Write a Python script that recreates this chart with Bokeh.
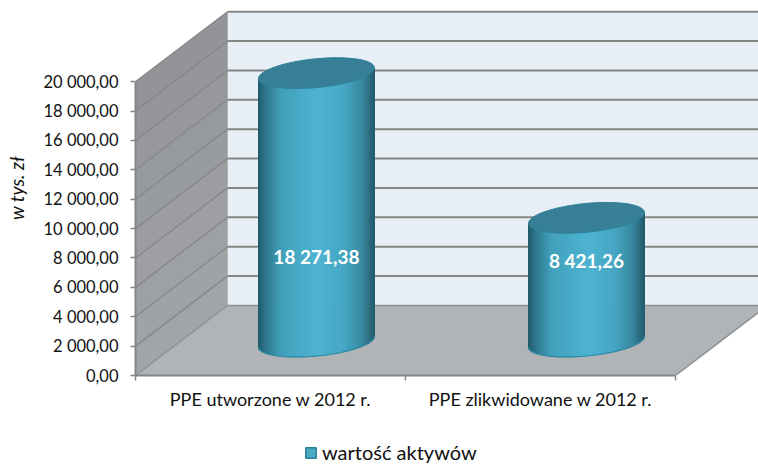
import math
from bokeh.plotting import figure
from bokeh.layouts import column
from bokeh.models import (Range1d, LinearAxis, FixedTicker, Legend, LegendItem)
from bokeh.core.properties import value
from bokeh.embed import file_html
from bokeh.resources import INLINE

# ---- data ----
categories = ["PPE utworzone w 2012 r.", "PPE zlikwidowane w 2012 r."]
series_name = "wartość aktywów"
series_values = [18271.38, 8421.26]
value_labels = ["18 271,38", "8 421,26"]
y_ticks = [0, 2000, 4000, 6000, 8000, 10000, 12000, 14000, 16000, 18000, 20000]
y_tick_labels = ["0,00", "2 000,00", "4 000,00", "6 000,00", "8 000,00", "10 000,00",
                 "12 000,00", "14 000,00", "16 000,00", "18 000,00", "20 000,00"]
y_title = "w tys. zł"

# ---- layout / projection ----
W, H = 758, 440
LEGEND_H = 24
LEFT, BOTTOM = 135, 65
PX_PER_CAT = 270.0
PX_PER_VAL = 293.8 / 20000
DEPTH_X = 92 / PX_PER_CAT       # oblique depth, category units
DEPTH_Y = 70 / PX_PER_VAL       # oblique depth, value units
FONT = value("Lato")
GRID = "#868686"
LABEL_HEIGHT = [5800, 5540]
TITLE_CENTRE = 10950            # value level at which the y title is centred
CZ = 0.485                      # depth of the cylinder axis
CU = 0.505                      # position of the cylinder axis inside its category


def proj(u, v, z):
    return u + z * DEPTH_X, v + z * DEPTH_Y


def lerp(c0, c1, f):
    return tuple(a + (b - a) * f for a, b in zip(c0, c1))


def hexc(c):
    return "#%02x%02x%02x" % tuple(int(round(x)) for x in c)


x_end = (W - LEFT) / PX_PER_CAT
y_end = (H - BOTTOM) / PX_PER_VAL
n_cat = len(categories)
vmax = y_ticks[-1]

p = figure(width=W, height=H, output_backend="svg", toolbar_location=None,
           x_range=Range1d(0, x_end), y_range=Range1d(0, y_end),
           x_axis_type=None, y_axis_type=None,
           min_border_left=LEFT, min_border_right=0, min_border_top=0, min_border_bottom=BOTTOM)
p.grid.visible = False
p.outline_line_color = None
p.border_fill_color = "white"
p.background_fill_color = "white"


def poly(pts, **kw):
    p.patch([q[0] for q in pts], [q[1] for q in pts], **kw)


# back wall
poly([proj(0, 0, 1), proj(n_cat, 0, 1), proj(n_cat, vmax, 1), proj(0, vmax, 1)],
     fill_color="#e8eff6", line_color=None)
# floor
poly([proj(0, 0, 0), proj(n_cat, 0, 0), proj(n_cat, 0, 1), proj(0, 0, 1)],
     fill_color="#b0b4b7", line_color=None)
# left wall, banded from dark (top) to light (bottom)
for i in range(len(y_ticks) - 1):
    f = i / (len(y_ticks) - 2)
    c = hexc(lerp((0xa2, 0xa5, 0xa7), (0x92, 0x94, 0x97), f))
    poly([proj(0, y_ticks[i], 0), proj(0, y_ticks[i + 1], 0), proj(0, y_ticks[i + 1], 1), proj(0, y_ticks[i], 1)],
         fill_color=c, line_color=c, line_width=0.5)

# gridlines on walls
for t in y_ticks[1:]:
    a, b, c = proj(0, t, 0), proj(0, t, 1), proj(n_cat, t, 1)
    p.line([a[0], b[0]], [a[1], b[1]], line_color=GRID, line_width=1.3)
    p.line([b[0], c[0]], [b[1], c[1]], line_color=GRID, line_width=2)
# floor edges
for s, e in [((0, 0, 1), (n_cat, 0, 1)), ((0, 0, 0), (0, 0, 1)), ((n_cat, 0, 0), (n_cat, 0, 1))]:
    a, b = proj(*s), proj(*e)
    p.line([a[0], b[0]], [a[1], b[1]], line_color="#8f9295", line_width=1.5)

# cylinders
RAD_X = 54.3 / PX_PER_CAT
RAD_Z = 0.22
STOPS = [(0.0, (0x1f, 0x5a, 0x6a)), (0.06, (0x2c, 0x74, 0x89)), (0.2, (0x42, 0xa0, 0xbb)),
         (0.52, (0x4d, 0xb4, 0xd2)), (0.75, (0x45, 0xa6, 0xc2)), (0.9, (0x38, 0x88, 0xa0)),
         (1.0, (0x25, 0x5c, 0x6c))]


def ramp(f):
    for (f0, c0), (f1, c1) in zip(STOPS, STOPS[1:]):
        if f <= f1:
            return hexc(lerp(c0, c1, (f - f0) / (f1 - f0)))
    return hexc(STOPS[-1][1])


def rim(cu, v, t):
    return proj(cu + RAD_X * math.cos(t), v, CZ + RAD_Z * math.sin(t))


T0 = math.atan2(RAD_Z * DEPTH_X, RAD_X)
XEXT = math.hypot(RAD_X, RAD_Z * DEPTH_X)
N = 70
for i, val in enumerate(series_values):
    cu = i + CU
    cx = proj(cu, 0, CZ)[0]
    xs, ys, cols = [], [], []
    ts = [T0 - math.pi + math.pi * k / N for k in range(N + 1)]
    for k in range(N):
        a0, a1 = rim(cu, 0, ts[k]), rim(cu, 0, ts[k + 1])
        b0, b1 = rim(cu, val, ts[k]), rim(cu, val, ts[k + 1])
        xs.append([a0[0], a1[0], b1[0], b0[0]])
        ys.append([a0[1], a1[1], b1[1], b0[1]])
        cols.append(ramp(((a0[0] + a1[0]) / 2 - cx + XEXT) / (2 * XEXT)))
    p.patches(xs, ys, fill_color=cols, line_color=cols, line_width=1.1)
    base = [rim(cu, 0, t) for t in ts]
    p.line([q[0] for q in base], [q[1] for q in base], line_color="#2f8aa3", line_width=1.2)
    top = [rim(cu, val, 2 * math.pi * k / 120) for k in range(121)]
    poly(top, fill_color="#377f96", line_color="#2f8199", line_width=1)
    # value label
    lx, ly = proj(cu, LABEL_HEIGHT[i], CZ)
    p.text([lx], [ly], text=[value_labels[i]], text_color="white", text_font=FONT,
           text_font_style="bold", text_font_size="19px", text_align="center", text_baseline="middle")

# axes
ya = LinearAxis(ticker=FixedTicker(ticks=y_ticks), bounds=(y_ticks[0], y_ticks[-1]),
                major_label_overrides={t: l for t, l in zip(y_ticks, y_tick_labels)})
ya.axis_line_color = GRID
ya.axis_line_width = 2
ya.major_tick_line_color = GRID
ya.major_tick_line_width = 1.5
ya.major_tick_in = 0
ya.major_tick_out = 5
ya.minor_tick_in = ya.minor_tick_out = 0
ya.major_label_standoff = 12
ya.major_label_text_font = "Lato"
ya.major_label_text_font_size = "16.5px"
ya.major_label_text_color = "#111111"
p.add_layout(ya, "left")

# second left axis: only carries the y title, centred where the reference has it
ta = LinearAxis(ticker=FixedTicker(ticks=[]), bounds=(TITLE_CENTRE - 1000, TITLE_CENTRE + 1000),
                axis_label=y_title)
ta.axis_line_color = None
ta.major_tick_line_color = None
ta.minor_tick_line_color = None
ta.major_label_text_font_size = "1px"
ta.major_label_standoff = 0
ta.major_tick_in = ta.major_tick_out = ta.minor_tick_in = ta.minor_tick_out = 0
ta.axis_label_standoff = 13
ta.axis_label_text_font = "Lato"
ta.axis_label_text_font_style = "italic"
ta.axis_label_text_font_size = "19px"
ta.axis_label_text_color = "#111111"
p.add_layout(ta, "left")

cat_pos = [i + 0.5 for i in range(n_cat)]
xa = LinearAxis(ticker=FixedTicker(ticks=cat_pos, minor_ticks=list(range(n_cat + 1))),
                bounds=(0, n_cat),
                major_label_overrides={t: c for t, c in zip(cat_pos, categories)})
xa.axis_line_color = GRID
xa.axis_line_width = 2
xa.major_tick_in = xa.major_tick_out = 0
xa.minor_tick_in = 0
xa.minor_tick_out = 5
xa.minor_tick_line_color = GRID
xa.minor_tick_line_width = 1.5
xa.major_label_standoff = 7
xa.major_label_text_font = "Lato"
xa.major_label_text_font_size = "18px"
xa.major_label_text_color = "#111111"
p.add_layout(xa, "below")

# legend strip under the chart (its frame lines up with the chart's frame)
lg = figure(width=W, height=LEGEND_H, output_backend="svg", toolbar_location=None,
            x_range=Range1d(0, 1), y_range=Range1d(0, 1),
            x_axis_type=None, y_axis_type=None,
            min_border_left=0, min_border_right=0, min_border_top=0, min_border_bottom=0)
lg.grid.visible = False
lg.outline_line_color = None
# the swatch's source renderer sits outside the visible range: only its legend entry shows
proxy = lg.quad(left=[-2], right=[-1], bottom=[-2], top=[-1],
                fill_color="#4bacc6", line_color="#2d7e95", line_width=1.5)
leg = Legend(items=[LegendItem(label=series_name, renderers=[proxy])], location=(304 - LEFT, 0),
             orientation="horizontal", border_line_color=None, background_fill_alpha=0,
             glyph_width=13, glyph_height=13, padding=0, margin=0, label_standoff=5,
             label_text_font="Lato", label_text_font_size="20px", label_text_color="#111111")
lg.add_layout(leg, "center")

open("out.html", "w").write(file_html(column(p, lg, spacing=0), INLINE))
